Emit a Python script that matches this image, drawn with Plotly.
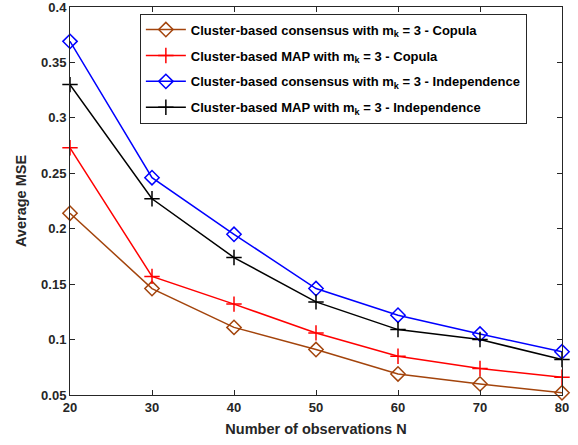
import plotly.graph_objects as go

N = [20, 30, 40, 50, 60, 70, 80]
cons_copula = [0.214, 0.146, 0.111, 0.091, 0.069, 0.060, 0.052]
map_copula = [0.273, 0.157, 0.132, 0.106, 0.085, 0.074, 0.066]
cons_indep = [0.369, 0.246, 0.195, 0.146, 0.122, 0.105, 0.089]
map_indep = [0.330, 0.227, 0.174, 0.134, 0.109, 0.100, 0.082]
y_ticks = [0.05, 0.1, 0.15, 0.2, 0.25, 0.3, 0.35, 0.4]
y_tick_labels = ["0.05", "0.1", "0.15", "0.2", "0.25", "0.3", "0.35", "0.4"]

names = [
    "Cluster-based consensus with m<sub>k</sub> = 3 - Copula",
    "Cluster-based MAP with m<sub>k</sub> = 3 - Copula",
    "Cluster-based consensus with m<sub>k</sub> = 3 - Independence",
    "Cluster-based MAP with m<sub>k</sub> = 3 - Independence",
]
series = [cons_copula, map_copula, cons_indep, map_indep]
colors = ["#A3440C", "#FF0000", "#0000FF", "#000000"]
symbols = ["diamond-open", "cross-thin-open", "diamond-open", "cross-thin-open"]

FONT = "Liberation Sans, Arial, sans-serif"
fig = go.Figure()
for i, (nm, ys, c, s) in enumerate(zip(names, series, colors, symbols)):
    fig.add_trace(go.Scatter(
        x=N, y=ys, name=nm, mode="lines+markers", legendgroup=f"g{i}",
        line=dict(color=c, width=1.5),
        marker=dict(symbol=s, size=11, color=c, line=dict(color=c, width=1.5)),
        cliponaxis=False,
    ))

axis_common = dict(
    showgrid=False, zeroline=False, showline=True, linecolor="#262626", linewidth=1,
    mirror="ticks", ticks="inside", ticklen=5, tickcolor="#262626", automargin=False,
    ticklabeloverflow="allow",
    tickfont=dict(family=FONT, size=13, color="#262626", weight="bold"),
)
fig.update_xaxes(range=[20, 80], tickvals=N, ticktext=[f"<b>{v}</b>" for v in N],
                 title=dict(text="<b>Number of observations N</b>", standoff=10,
                            font=dict(family=FONT, size=14.5, color="#262626", weight="bold")),
                 **axis_common)
fig.update_yaxes(range=[0.05, 0.4], tickvals=y_ticks,
                 ticktext=[f"<b>{t}</b>" for t in y_tick_labels],
                 title=dict(text="<b>Average MSE</b>", standoff=11,
                            font=dict(family=FONT, size=14.5, color="#262626", weight="bold")),
                 **axis_common)

fig.update_layout(
    width=578, height=445,
    margin=dict(l=70, r=16, t=7, b=50, autoexpand=False),
    plot_bgcolor="white", paper_bgcolor="white",
    showlegend=True,
    legend=dict(x=0.142, y=0.983, xanchor="left", yanchor="top",
                bgcolor="white", bordercolor="#262626", borderwidth=1,
                font=dict(family=FONT, size=13, color="#000000", weight="bold"),
                tracegroupgap=6, itemwidth=40),
)

fig.write_html("out.html", config={"displayModeBar": False},
               post_script="document.body.style.margin='0';document.body.style.overflow='hidden';")
